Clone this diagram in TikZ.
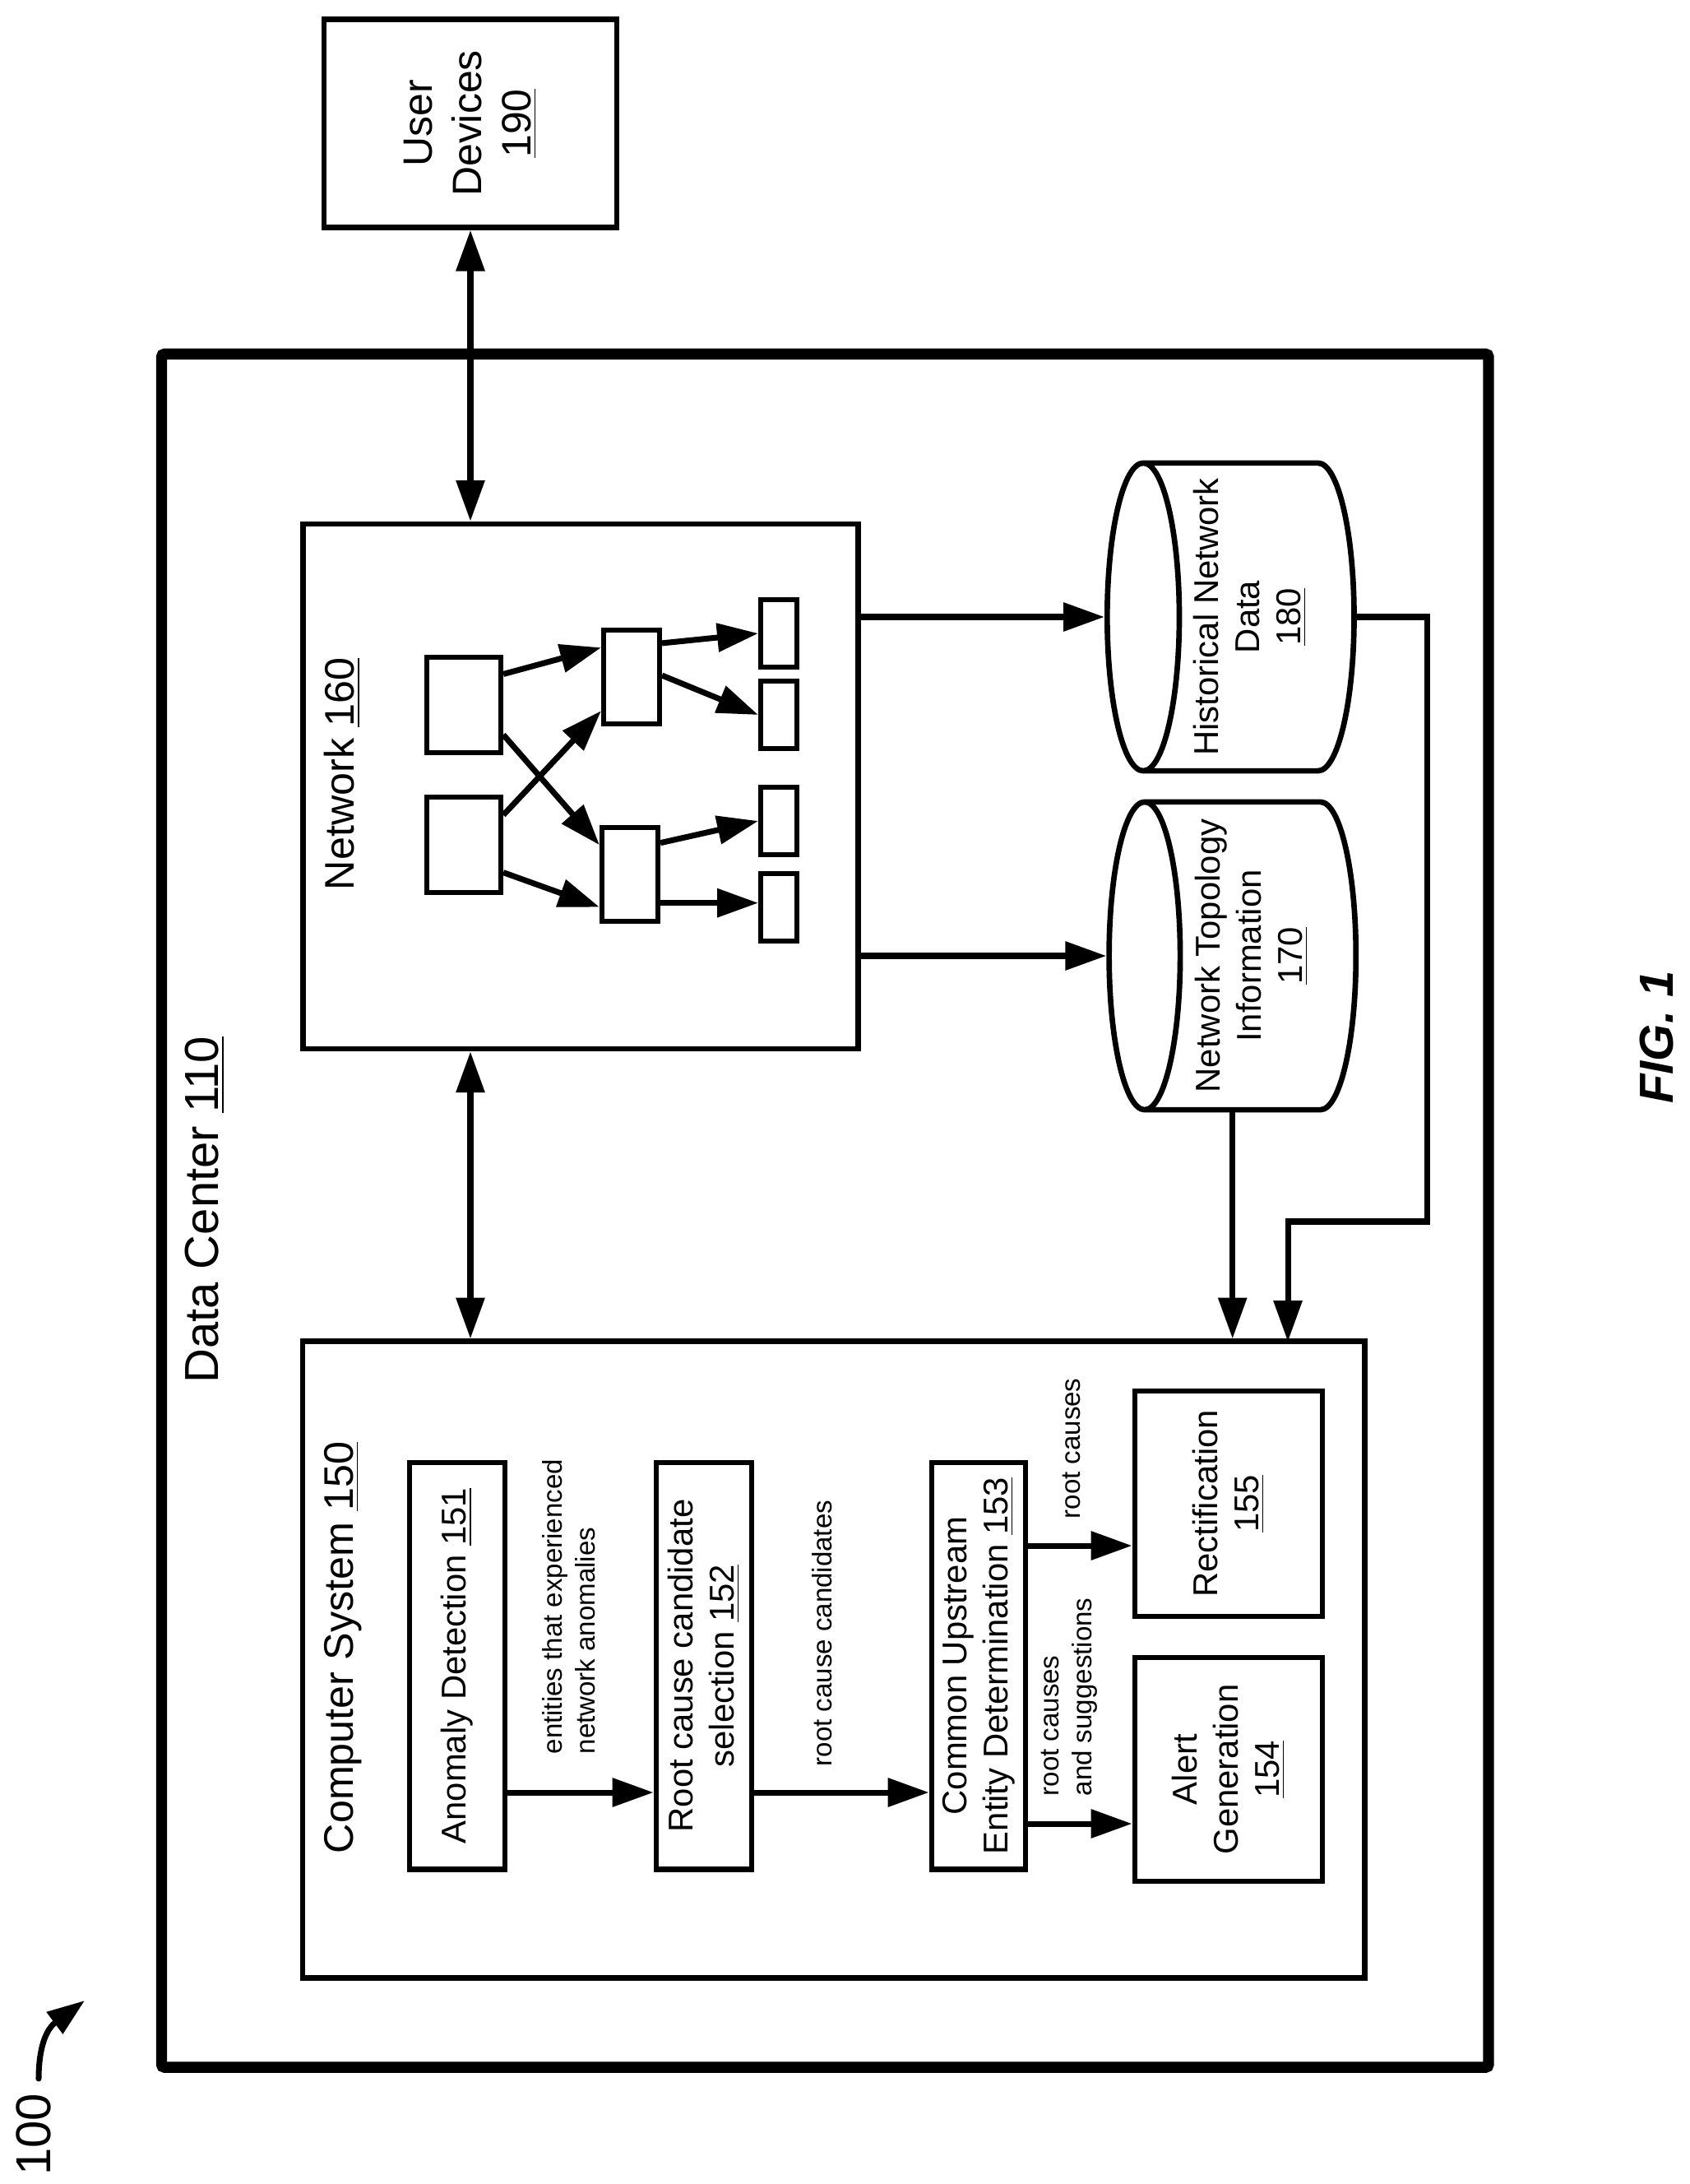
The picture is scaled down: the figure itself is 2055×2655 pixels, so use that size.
\documentclass[tikz,border=0pt]{standalone}
\usepackage{fontspec}
\setmainfont{Liberation Sans}
\usetikzlibrary{arrows.meta,shapes.geometric}

\newcommand{\refnum}[1]{\underline{#1}}

\tikzset{
    dcbox/.style={draw, line width=3.8pt, rounded corners=1pt, inner sep=0pt},
    sysbox/.style={draw, line width=1.9pt, inner sep=0pt},
    procbox/.style={sysbox, rotate=90, align=center, font=\fontsize{11.9}{14.2}\selectfont},
    devnode/.style={draw, line width=1.7pt, inner sep=0pt, minimum width=1.15cm},
    leafnode/.style={draw, line width=1.7pt, inner sep=0pt, minimum width=0.44cm, minimum height=0.81cm},
    store/.style={draw, line width=1.9pt, cylinder, shape border rotate=90, rotate=90, aspect=0.26,
        minimum width=3.74cm, minimum height=3cm, inner sep=0pt, align=center,
        font=\fontsize{11.9}{14.2}\selectfont},
    title/.style={rotate=90, inner sep=0pt, font=\fontsize{14.3}{17}\selectfont},
    edgetext/.style={rotate=90, anchor=west, align=left, inner sep=0pt, font=\fontsize{9.4}{11.4}\selectfont},
    link/.style={line width=2pt, -{Triangle[length=14.2pt, width=9.6pt]}},
    dlink/.style={line width=2pt, {Triangle[length=14.2pt, width=9.6pt]}-{Triangle[length=14.2pt, width=9.6pt]}},
}

\begin{document}
\begin{tikzpicture}[x=0.01cm, y=-0.01cm]
    \useasboundingbox (0,0) rectangle (2055,2655);

    % 一些重复使用的坐标
    \def\xRoot{564}  \def\xLeaf{947}
    \def\xProc{2025}

    % 外框
    \node[dcbox, minimum width=16.125cm, minimum height=20.815cm] (dc) at (1003.25,1471.75) {};
    \node[title, font=\fontsize{16.5}{20}\selectfont] (dctext) at (249,1471) {Data Center \refnum{110}};

    % 用户设备
    \node[sysbox, rotate=90, align=center, minimum width=2.525cm, minimum height=3.56cm,
        font=\fontsize{14.2}{17}\selectfont] (user) at (572,150) {User\\Devices\\\refnum{190}};

    % 网络 160 及其内部节点
    \node[sysbox, minimum width=6.74cm, minimum height=6.375cm] (net) at (706,956) {};
    \node[title] (nettext) at (416,941) {Network \refnum{160}};
    \node[devnode, minimum height=1.16cm, minimum width=0.9cm] (coreA) at (\xRoot,857) {};
    \node[devnode, minimum height=1.16cm, minimum width=0.9cm] (coreB) at (\xRoot,1027) {};
    \node[devnode, minimum width=0.68cm, minimum height=1.13cm] (aggA) at (768,823) {};
    \node[devnode, minimum width=0.68cm, minimum height=1.14cm] (aggB) at (766,1063) {};
    \node[leafnode] (leafA) at (\xLeaf,770) {};
    \node[leafnode] (leafB) at (\xLeaf,869) {};
    \node[leafnode] (leafC) at (\xLeaf,998) {};
    \node[leafnode] (leafD) at (\xLeaf,1103) {};

    % 两个数据库
    \node[store] (hist) at (1520,750) {Historical Network\\Data\\\refnum{180}};
    \node[store] (topo) at (1522,1162) {Network Topology\\Information\\\refnum{170}};

    % 计算机系统 150 及其模块
    \node[sysbox, minimum width=12.905cm, minimum height=7.735cm] (comp) at (1013.75,2017.75) {};
    \node[title] (comptext) at (417,2003) {Computer System \refnum{150}};
    \node[procbox, minimum width=4.94cm, minimum height=1.16cm] (anomaly) at (556,\xProc) {Anomaly Detection \refnum{151}};
    \node[procbox, minimum width=4.94cm, minimum height=1.16cm] (rootsel) at (856,\xProc) {Root cause candidate\\selection \refnum{152}};
    \node[procbox, minimum width=4.94cm, minimum height=1.14cm] (common) at (1190,\xProc) {Common Upstream\\Entity Determination \refnum{153}};
    \node[procbox, minimum width=2.74cm, minimum height=2.28cm] (rectify) at (1494,1828) {Rectification\\\refnum{155}};
    \node[procbox, minimum width=2.72cm, minimum height=2.28cm] (alert) at (1494,2151) {Alert\\Generation\\\refnum{154}};

    % 箭头旁的文字
    \node[edgetext] (entitytext) at (692,2133) {entities that experienced\\network anomalies};
    \node[edgetext] (candtext) at (1000,2148) {root cause candidates};
    \node[edgetext] (causetext) at (1303,1847) {root causes};
    \node[edgetext] (suggesttext) at (1300,2184) {root causes\\and suggestions};

    % 图号
    \node[title, font=\fontsize{16.5}{20}\selectfont\bfseries\itshape] (figtext) at (2014,1261) {FIG. 1};
    \node[title, font=\fontsize{17}{20}\selectfont] (reftext) at (41,2595) {100};

    % 辅助点
    \coordinate (rowA) at (0,2179);
    \coordinate (rowB) at (0,1879);
    \coordinate (rowC) at (0,2217);
    \coordinate (histBend) at (1735,1485);
    \coordinate (compIn) at (1566,1631);
    \coordinate (refStart) at (47,2527);
    \coordinate (refTip) at (103,2432);

    % 外部连接
    \draw[dlink] (user.west) -- (net.north -| user.west);
    \draw[dlink] (net.south -| user.west) -- (comp.north -| user.west);
    \draw[link] (net.east |- hist.top) -- (hist.top);
    \draw[link] (net.east |- topo.top) -- (topo.top);
    \draw[link] (topo.shape center |- topo.west) -- (comp.north -| topo.shape center);
    \draw[link] (hist.bottom) -| (histBend) -| (compIn);

    % 网络内部连接
    \draw[link] (coreA.38) -- (aggA.136);
    \draw[link] (coreA.-37) -- (aggB.136);
    \draw[link] (coreB.37) -- (aggA.-132);
    \draw[link] (coreB.-35) -- (aggB.-133);
    \draw[link] (aggA.48) -- (leafA.west);
    \draw[link] (aggA.3) -- (leafB.west);
    \draw[link] (aggB.46) -- (leafC.west);
    \draw[link] (leafD.168 -| aggB.east) -- (leafD.168);

    % 模块之间的连接
    \draw[link] (anomaly.south |- rowA) -- (rootsel.north |- rowA);
    \draw[link] (rootsel.south |- rowA) -- (common.north |- rowA);
    \draw[link] (common.south |- rowB) -- (rectify.north |- rowB);
    \draw[link] (common.south |- rowC) -- (alert.north |- rowC);

    % 图号旁的弯箭头
    \draw[line width=2pt, line cap=round, -{Triangle[length=13pt, width=9pt]}]
        (refStart) .. controls (47,2500) and (52,2470) .. (refTip);
\end{tikzpicture}
\end{document}
